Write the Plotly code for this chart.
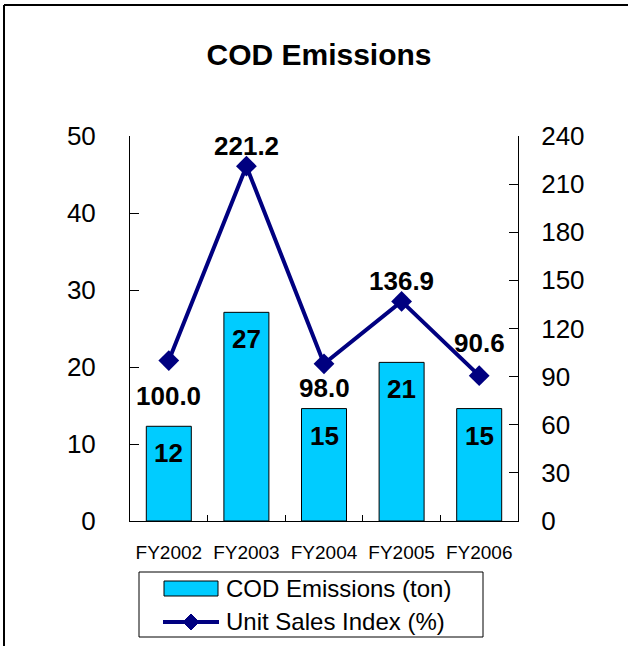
import plotly.graph_objects as go

categories = ["FY2002", "FY2003", "FY2004", "FY2005", "FY2006"]
cod_emissions = [12.3, 27.1, 14.6, 20.6, 14.6]
sales_index = [100.0, 221.2, 98.0, 136.9, 90.6]
left_ticks = [0, 10, 20, 30, 40, 50]
right_ticks = [0, 30, 60, 90, 120, 150, 180, 210, 240]
series_names = ["COD Emissions (ton)", "Unit Sales Index (%)"]

# styling: vertical pixel offsets of the line labels (positive = up)
line_label_shift = [-35, 20, -24, 20, 33]

W, H = 628, 646
L, R, T, B = 130, 110, 136, 125
PW, PH = W - L - R, H - T - B

def px_x(x):
    return (x - L) / PW

def px_y(y):
    return (H - B - y) / PH

FONT = "Arial, Liberation Sans, sans-serif"
BAR_COLOR = "#00CCFF"
LINE_COLOR = "#000080"

fig = go.Figure()
fig.add_trace(go.Bar(
    x=categories, y=cod_emissions, name=series_names[0],
    marker=dict(color=BAR_COLOR, line=dict(color="#000000", width=1)),
    showlegend=False,
))
fig.add_trace(go.Scatter(
    x=categories, y=sales_index, name=series_names[1], yaxis="y2",
    mode="lines+markers",
    line=dict(color=LINE_COLOR, width=4),
    marker=dict(symbol="diamond", size=16, color=LINE_COLOR),
    cliponaxis=False, showlegend=False,
))

annotations = []
for c, v in zip(categories, cod_emissions):
    annotations.append(dict(x=c, y=v, xref="x", yref="y", text=f"<b>{v:.0f}</b>",
                            showarrow=False, yshift=-27, yanchor="middle",
                            font=dict(family=FONT, size=26, color="black")))
for c, v, dy in zip(categories, sales_index, line_label_shift):
    annotations.append(dict(x=c, y=v, xref="x", yref="y2", text=f"<b>{v:.1f}</b>",
                            showarrow=False, yshift=dy, yanchor="middle",
                            font=dict(family=FONT, size=26, color="black")))

# manual legend texts
annotations.append(dict(x=px_x(224), y=px_y(588), xref="paper", yref="paper",
                        text=series_names[0], showarrow=False, xanchor="left",
                        yanchor="middle", font=dict(family=FONT, size=24, color="black")))
annotations.append(dict(x=px_x(224), y=px_y(621), xref="paper", yref="paper",
                        text=series_names[1], showarrow=False, xanchor="left",
                        yanchor="middle", font=dict(family=FONT, size=24, color="black")))

fig.update_layout(
    width=W, height=H,
    margin=dict(l=L, r=R, t=T, b=B, autoexpand=False),
    paper_bgcolor="white", plot_bgcolor="white",
    font=dict(family=FONT, color="black"),
    title=dict(text="<b>COD Emissions</b>", x=px_x(319), xref="paper", xanchor="center",
               y=1 - 54 / H, yanchor="middle", font=dict(size=30, family=FONT)),
    bargap=0.42,
    showlegend=False,
    annotations=annotations,
    xaxis=dict(showline=True, linecolor="black", linewidth=1, ticks="inside",
               tickson="boundaries", ticklen=6, tickcolor="black",
               tickfont=dict(size=19, family=FONT), showgrid=False,
               ticklabelstandoff=14),
    yaxis=dict(range=[0, 50], tickvals=left_ticks, showline=True, linecolor="black",
               ticks="inside", ticklen=9, tickcolor="black", showgrid=False,
               zeroline=False, tickfont=dict(size=26, family=FONT),
               ticklabelstandoff=28),
    yaxis2=dict(range=[0, 240], tickvals=right_ticks, overlaying="y", side="right",
                showline=True, linecolor="black", ticks="inside", ticklen=9,
                tickcolor="black", showgrid=False, zeroline=False,
                tickfont=dict(size=26, family=FONT), ticklabelstandoff=17),
)

shapes = []
# chart frame (top and left edges visible)
shapes.append(dict(type="line", xref="paper", yref="paper",
                   x0=px_x(4), x1=px_x(W + 5), y0=px_y(5), y1=px_y(5),
                   line=dict(color="black", width=2)))
shapes.append(dict(type="line", xref="paper", yref="paper",
                   x0=px_x(4), x1=px_x(4), y0=px_y(5), y1=px_y(H + 5),
                   line=dict(color="black", width=2)))
# legend box
shapes.append(dict(type="rect", xref="paper", yref="paper",
                   x0=px_x(139), x1=px_x(483), y0=px_y(572), y1=px_y(637),
                   line=dict(color="black", width=1), fillcolor="white", layer="below"))
# legend bar swatch
shapes.append(dict(type="rect", xref="paper", yref="paper",
                   x0=px_x(164), x1=px_x(218), y0=px_y(581), y1=px_y(596),
                   line=dict(color="black", width=1), fillcolor=BAR_COLOR))
# legend line swatch
shapes.append(dict(type="line", xref="paper", yref="paper",
                   x0=px_x(163), x1=px_x(219), y0=px_y(622), y1=px_y(622),
                   line=dict(color=LINE_COLOR, width=4)))
cx, cy, d = 191, 622, 8
shapes.append(dict(type="path", xref="paper", yref="paper",
                   path=(f"M {px_x(cx - d)} {px_y(cy)} L {px_x(cx)} {px_y(cy - d)} "
                         f"L {px_x(cx + d)} {px_y(cy)} L {px_x(cx)} {px_y(cy + d)} Z"),
                   line=dict(color=LINE_COLOR, width=1), fillcolor=LINE_COLOR))
fig.update_layout(shapes=shapes)

fig.write_html("out.html", config={"displayModeBar": False},
               post_script="document.body.style.margin='0';document.body.style.overflow='hidden';")
